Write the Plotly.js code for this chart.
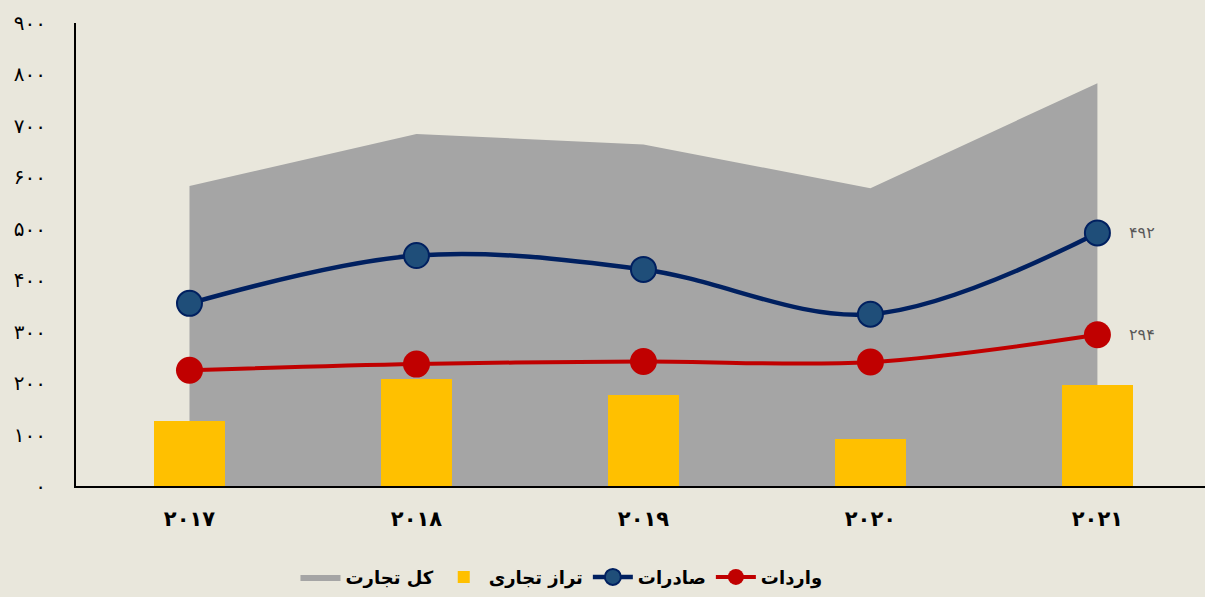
<!DOCTYPE html>
<html>
<head>
<meta charset="utf-8">
<script src="https://cdn.plot.ly/plotly-3.0.1.min.js"></script>
<style>html,body{margin:0;padding:0;background:#E9E7DC;overflow:hidden;}#chart{width:1205px;height:597px;}</style>
</head>
<body>
<div id="chart"></div>
<script>
const years = ['۲۰۱۷', '۲۰۱۸', '۲۰۱۹', '۲۰۲۰', '۲۰۲۱'];
const totalTrade = [583, 684, 664, 579, 783];
const tradeBalance = [127, 208, 176, 91, 196];
const exportsVals = [355, 448, 421, 334, 492];
const importsVals = [225, 237, 242, 241, 294];
const yTickVals = [0, 100, 200, 300, 400, 500, 600, 700, 800, 900];
const yTickText = ['۰', '۱۰۰', '۲۰۰', '۳۰۰', '۴۰۰', '۵۰۰', '۶۰۰', '۷۰۰', '۸۰۰', '۹۰۰'];
const lastLabels = ['۴۹۲', '۲۹۴'];

const idx = years.map((_, i) => i);
const font = 'DejaVu Sans, Noto Sans, sans-serif';

const traces = [
  {type: 'scatter', mode: 'lines', x: idx, y: totalTrade, fill: 'tozeroy',
   fillcolor: '#A5A5A5', line: {width: 0, color: '#A5A5A5'}, name: '<b>کل تجارت</b>'},
  {type: 'bar', x: idx, y: tradeBalance, width: 0.313, marker: {color: '#FFC000'},
   name: '<b>تراز تجاری</b>', xaxis: 'x2', yaxis: 'y2'},
  {type: 'scatter', mode: 'lines+markers', x: idx, y: exportsVals, name: '<b>صادرات</b>',
   xaxis: 'x2', yaxis: 'y2',
   line: {color: '#002060', width: 4.5, shape: 'spline', smoothing: 1},
   marker: {size: 25, color: '#1F4E79', line: {color: '#002060', width: 2}}},
  {type: 'scatter', mode: 'lines+markers', x: idx, y: importsVals, name: '<b>واردات</b>',
   xaxis: 'x2', yaxis: 'y2',
   line: {color: '#C00000', width: 4, shape: 'spline', smoothing: 1},
   marker: {size: 27, color: '#C00000'}}
];

const xr = [-0.5, 4.474];
const layout = {
  width: 1205, height: 597,
  paper_bgcolor: '#E9E7DC', plot_bgcolor: '#E9E7DC',
  margin: {l: 76, r: 0, t: 23, b: 111},
  showlegend: true,
  legend: {orientation: 'h', x: 0.43, xanchor: 'center', y: -0.197, yanchor: 'middle',
           font: {family: font, size: 18, color: '#000'}, traceorder: 'normal', itemwidth: 40},
  xaxis: {range: xr, tickvals: idx, ticktext: years.map(y => '<b>' + y + '</b>'),
          showline: true, linecolor: '#000', linewidth: 2, showgrid: false, zeroline: false,
          ticks: '', ticklabelstandoff: 13, tickfont: {family: font, size: 21, color: '#000'}},
  yaxis: {range: [0, 900], tickvals: yTickVals, ticktext: yTickText,
          showline: true, linecolor: '#000', linewidth: 2, showgrid: false, zeroline: false,
          ticks: '', ticklabelstandoff: 24, tickfont: {family: font, size: 20, color: '#000'}},
  xaxis2: {range: xr, overlaying: 'x', visible: false},
  yaxis2: {range: [0, 900], overlaying: 'y', visible: false},
  bargap: 0,
  annotations: [
    {x: 4, y: exportsVals[4], xref: 'x2', yref: 'y2', text: lastLabels[0], showarrow: false, xanchor: 'left', xshift: 30,
     font: {family: font, size: 16, color: '#595959'}},
    {x: 4, y: importsVals[4], xref: 'x2', yref: 'y2', text: lastLabels[1], showarrow: false, xanchor: 'left', xshift: 30,
     font: {family: font, size: 16, color: '#595959'}}
  ]
};

Plotly.newPlot('chart', traces, layout, {displayModeBar: false, staticPlot: true});
</script>
</body>
</html>
